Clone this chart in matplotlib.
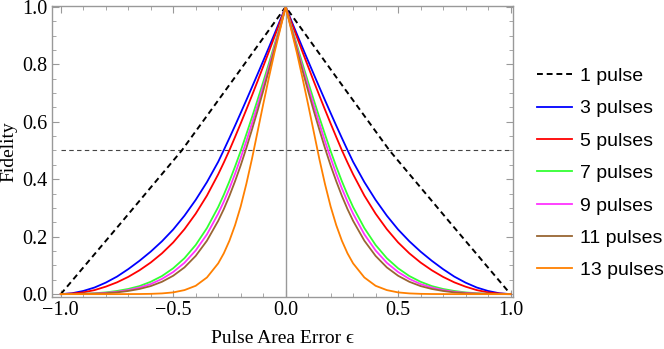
import numpy as np
import matplotlib
matplotlib.use("Agg")
import matplotlib.pyplot as plt
from matplotlib.ticker import MultipleLocator, FuncFormatter

# Erro de área do pulso (lado positivo; a curva é simétrica)
eps = [0, 0.025, 0.05, 0.075, 0.1, 0.125, 0.15, 0.175, 0.2, 0.225, 0.25, 0.275, 0.3,
       0.35, 0.4, 0.45, 0.5, 0.55, 0.6, 0.65, 0.7, 0.75, 0.8, 0.85, 0.9, 0.95, 1.0]

f3 = [1, 0.9525, 0.905, 0.858, 0.8115, 0.7655, 0.72, 0.675, 0.6305, 0.5865, 0.5435, 0.5015, 0.4605,
      0.39, 0.328, 0.273, 0.225, 0.184, 0.148, 0.116, 0.087, 0.061, 0.04, 0.023, 0.011, 0.003, 0]
f5 = [1, 0.947, 0.895, 0.843, 0.792, 0.741, 0.691, 0.642, 0.594, 0.547, 0.501, 0.458, 0.417,
      0.343, 0.28, 0.226, 0.18, 0.142, 0.11, 0.083, 0.06, 0.041, 0.026, 0.014, 0.006, 0.002, 0]
f7 = [1, 0.933, 0.867, 0.802, 0.738, 0.676, 0.615, 0.556, 0.498, 0.444, 0.393, 0.346, 0.303,
      0.23, 0.171, 0.125, 0.09, 0.063, 0.043, 0.028, 0.018, 0.011, 0.006, 0.003, 0.0013, 0.0003, 0]
f9 = [1, 0.929, 0.859, 0.79, 0.723, 0.657, 0.594, 0.532, 0.474, 0.419, 0.368, 0.322, 0.28,
      0.208, 0.152, 0.109, 0.077, 0.053, 0.035, 0.023, 0.014, 0.008, 0.0045, 0.002, 0.001, 0.0002, 0]
f11 = [1, 0.925, 0.851, 0.778, 0.707, 0.638, 0.572, 0.508, 0.448, 0.393, 0.342, 0.296, 0.255,
       0.186, 0.133, 0.093, 0.064, 0.043, 0.028, 0.018, 0.011, 0.006, 0.003, 0.0015, 0.0006, 0.0001, 0]
f13 = [1, 0.92, 0.84, 0.752, 0.66, 0.565, 0.47, 0.383, 0.305, 0.24, 0.186, 0.142, 0.107,
       0.058, 0.029, 0.014, 0.006, 0.0025, 0.001, 0.0004, 0.0002, 0, 0, 0, 0, 0, 0]

# Curva de 1 pulso (tracejada)
eps1 = [0, 0.23, 0.462, 0.73, 1.0]
f1 = [1, 0.75, 0.5, 0.25, 0]

labels = ["1 pulse", "3 pulses", "5 pulses", "7 pulses", "9 pulses", "11 pulses", "13 pulses"]
cores = ["#0000ff", "#ff0000", "#33ff33", "#ff33ff", "#996633", "#ff8000"]


def espelha(x, y):
    # monta o lado negativo a partir do positivo
    x = np.asarray(x, dtype=float)
    y = np.asarray(y, dtype=float)
    return np.concatenate([-x[::-1], x[1:]]), np.concatenate([y[::-1], y[1:]])


plt.rcParams["font.family"] = "Liberation Serif"

fig = plt.figure(figsize=(6.64, 3.49), dpi=100)
ax = fig.add_axes([52 / 664, 52 / 349, 461 / 664, 291 / 349])

# Linha de referência F = 0.5 e eixo em x = 0
ax.plot([-1, 1], [0.5, 0.5], color="#444444", lw=0.8, dashes=(4, 3))
ax.plot([0, 0], [-0.01, 1.0], color="#999999", lw=1.0)

x, y = espelha(eps1, f1)
ax.plot(x, y, color="black", lw=1.4, dashes=(3, 2), label=labels[0])

for serie, cor, lab in zip([f3, f5, f7, f9, f11, f13], cores, labels[1:]):
    x, y = espelha(eps, serie)
    ax.plot(x, y, color=cor, lw=1.3, label=lab)

ax.set_xlim(-1.039, 1.011)
ax.set_ylim(-0.01, 1.003)

fmt = FuncFormatter(lambda v, p: f"{v:.1f}".replace("-", "\u2212"))
ax.xaxis.set_major_locator(MultipleLocator(0.5))
ax.xaxis.set_minor_locator(MultipleLocator(0.1))
ax.yaxis.set_major_locator(MultipleLocator(0.2))
ax.yaxis.set_minor_locator(MultipleLocator(0.05))
ax.xaxis.set_major_formatter(fmt)
ax.yaxis.set_major_formatter(fmt)

ax.tick_params(which="both", direction="in", top=True, right=True, color="#999999", labelsize=14.5)
ax.tick_params(which="major", length=5, width=0.8, pad=3)
ax.tick_params(which="minor", length=3, width=0.6)
for s in ax.spines.values():
    s.set_color("#999999")
    s.set_linewidth(1.0)

ax.set_xlabel("Pulse Area Error ϵ", fontsize=14, labelpad=7)
ax.set_ylabel("Fidelity", fontsize=14, labelpad=4)

leg = ax.legend(loc="center left", bbox_to_anchor=(1.051, 0.425), frameon=False,
                prop={"family": "Liberation Sans", "size": 14},
                borderpad=0, borderaxespad=0,
                handlelength=1.8, handletextpad=0.43, labelspacing=0.76)

fig.savefig("out.png", dpi=100)
